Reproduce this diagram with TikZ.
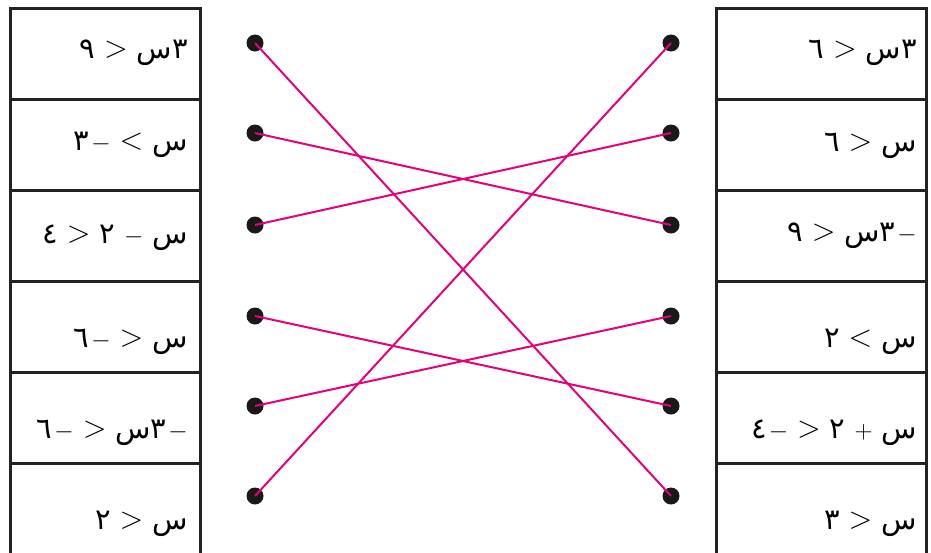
\documentclass[tikz,border=0pt]{standalone}
\usepackage{fontspec}
\usepackage{graphicx}
\newfontfamily\arfont[Script=Arabic]{DejaVu Sans}
\newcommand\artok[1]{\mbox{\arfont #1}}
\newcommand\symgt{\raisebox{1pt}{\scalebox{1.25}{$>$}}}
\newcommand\symlt{\raisebox{1pt}{\scalebox{1.25}{$<$}}}
\newcommand\symmin{\mbox{$-$}}
\newcommand\symplus{\mbox{$+$}}
\newcommand\sep{\hspace{9pt}}
\newcommand\tgap{\hspace{2pt}}
\definecolor{linkpink}{HTML}{E5007D}
\definecolor{frame}{HTML}{222222}
\tikzset{
  cellL/.style={draw=frame, line width=3pt, minimum width=190pt, minimum height=91pt, inner sep=0pt},
  cellR/.style={draw=frame, line width=3pt, minimum width=210pt, minimum height=91pt, inner sep=0pt},
  lab/.style={anchor=base east, inner sep=0pt, font=\fontsize{29}{34}\selectfont},
  dot/.style={circle, fill=black!90, minimum size=17pt, inner sep=0pt},
  link/.style={draw=linkpink, line width=2pt}
}
\begin{document}
\begin{tikzpicture}[x=1pt,y=-1pt]
\useasboundingbox (0,0) rectangle (931,552);
% cells
\foreach \i/\y in {1/53.5,2/144.5,3/235.5,4/326.5,5/417.5,6/508.5}{
  \node[cellL] (CL\i) at (105,\y) {};
  \node[cellR] (CR\i) at (821,\y) {};
}
% left labels
\node[lab] (tL1) at (188,58) {\artok{٩}\sep\symgt\sep\artok{س}\artok{٣}};
\node[lab] (tL2) at (188,150) {\artok{٣}\tgap\symmin\sep\symlt\sep\artok{س}};
\node[lab] (tL3) at (188,243) {\artok{٤}\sep\symgt\sep\artok{٢}\sep\symmin\sep\artok{س}};
\node[lab] (tL4) at (188,347) {\artok{٦}\tgap\symmin\sep\symgt\sep\artok{س}};
\node[lab] (tL5) at (188,438) {\artok{٦}\tgap\symmin\sep\symgt\sep\artok{س}\artok{٣}\tgap\symmin};
\node[lab] (tL6) at (188,529) {\artok{٢}\sep\symgt\sep\artok{س}};
% right labels
\node[lab] (tR1) at (917,58) {\artok{٦}\sep\symgt\sep\artok{س}\artok{٣}};
\node[lab] (tR2) at (917,151) {\artok{٦}\sep\symgt\sep\artok{س}};
\node[lab] (tR3) at (917,241) {\artok{٩}\sep\symgt\sep\artok{س}\artok{٣}\tgap\symmin};
\node[lab] (tR4) at (917,347) {\artok{٢}\sep\symlt\sep\artok{س}};
\node[lab] (tR5) at (917,438) {\artok{٤}\tgap\symmin\sep\symgt\sep\artok{٢}\sep\symplus\sep\artok{س}};
\node[lab] (tR6) at (917,529) {\artok{٣}\sep\symgt\sep\artok{س}};
% dots
\foreach \i/\y in {1/43,2/133,3/225,4/316,5/406,6/496}{
  \node[dot] (DL\i) at (255,\y) {};
  \node[dot] (DR\i) at (671,\y) {};
}
% links
\draw[link] (DL1.center) -- (DR6.center);
\draw[link] (DL2.center) -- (DR3.center);
\draw[link] (DL3.center) -- (DR2.center);
\draw[link] (DL4.center) -- (DR5.center);
\draw[link] (DL5.center) -- (DR4.center);
\draw[link] (DL6.center) -- (DR1.center);
\end{tikzpicture}
\end{document}
